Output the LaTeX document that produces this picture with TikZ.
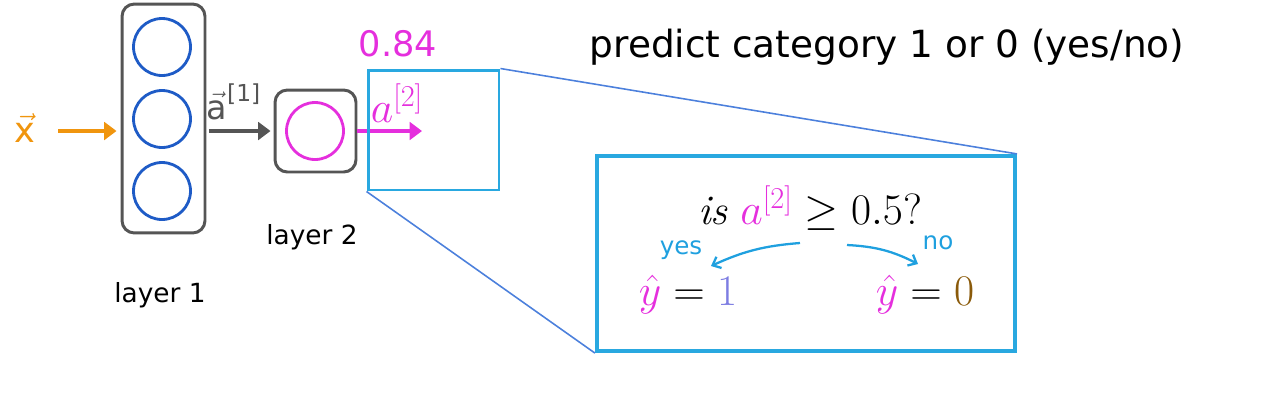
\documentclass[tikz,border=0pt]{standalone}
\usepackage{amsmath}
\usepackage{xcolor}
\usepackage{fontspec}
\setsansfont{DejaVu Sans}
\usetikzlibrary{arrows.meta}

\definecolor{inorange}{HTML}{F0950E}
\definecolor{unitblue}{HTML}{1E5BC6}
\definecolor{boxgray}{HTML}{555555}
\definecolor{outmag}{HTML}{E52FDD}
\definecolor{zoomcyan}{HTML}{29A8E0}
\definecolor{zoomblue}{HTML}{4C80DC}
\definecolor{handblue}{HTML}{1FA0DF}
\definecolor{onepurple}{HTML}{7D7DE2}
\definecolor{zerobrown}{HTML}{8A5A0A}

\tikzset{
  layerbox/.style={draw=boxgray, line width=1.7pt, rounded corners=7pt, inner sep=0pt},
  unit/.style={circle, draw, line width=1.6pt, minimum size=1.14cm, inner sep=0pt},
  flow/.style={line width=2.5pt, -{Triangle[length=7pt,width=10pt]}},
  zoombox/.style={draw=zoomcyan, inner sep=0pt},
  decide/.style={color=handblue, line width=1.3pt, -{Straight Barb[length=4pt,width=7pt]}},
  hand/.style={font=\sffamily\fontsize{14}{16}\selectfont, color=handblue},
  lbl/.style={font=\sffamily\fontsize{15}{18}\selectfont},
  big/.style={font=\fontsize{24}{28}\selectfont}
}

\begin{document}
\begin{tikzpicture}[x=0.02cm,y=-0.02cm]
  \useasboundingbox (0,0) rectangle (1264,414);

  % network
  \node[font=\sffamily\fontsize{20}{24}\selectfont, color=inorange, inner sep=1pt] (xin) at (25,128) {$\vec{\text{x}}$};
  \node[layerbox, minimum width=1.66cm, minimum height=4.58cm] (layer1) at (163.5,118.5) {};
  \node[unit, color=unitblue] (u1) at (162,47) {};
  \node[unit, color=unitblue] (u2) at (162,119) {};
  \node[unit, color=unitblue] (u3) at (162,191) {};
  \node[layerbox, minimum width=1.62cm, minimum height=1.64cm] (layer2) at (315.5,131) {};
  \node[unit, color=outmag] (out) at (315,131) {};
  \coordinate (xstart) at (58,131);
  \coordinate (aout) at (422,131);

  \draw[flow, color=inorange, shorten >=0.08cm] (xstart) -- (xstart -| layer1.west);
  \draw[flow, color=boxgray, shorten <=0.06cm, shorten >=0.06cm] (layer1.east |- layer2.west) -- (layer2.west);
  \draw[flow, color=outmag] (layer2.east) -- (aout);

  \node[font=\sffamily\fontsize{19}{22}\selectfont, color=boxgray] (a1) at (234,102) {$\vec{\text{a}}^{\text{[1]}}$};
  \node[font=\fontsize{23}{26}\selectfont, color=outmag] (a2) at (397,103) {$a^{[2]}$};
  \node[font=\sffamily\fontsize{20}{24}\selectfont, color=outmag] (val) at (398,44) {0.84};
  \node[lbl] (name2) at (312,237) {layer 2};
  \node[lbl] (name1) at (160,295) {layer 1};

  % zoom onto the output
  \node[zoombox, line width=1.7pt, minimum width=2.62cm, minimum height=2.4cm] (peek) at (433.5,130) {};
  \node[zoombox, line width=2.4pt, minimum width=8.36cm, minimum height=3.9cm] (detail) at (806,253.5) {};
  \draw[color=zoomblue, line width=0.9pt] (peek.north east) -- (detail.north east);
  \draw[color=zoomblue, line width=0.9pt] (peek.south west) -- (detail.south west);

  \node[font=\sffamily\fontsize{21.3}{25}\selectfont] (title) at (887,47) {predict category 1 or 0 (yes/no)};

  % threshold
  \node[big] (test) at (810,208) {$\mathit{is}\ {\color{outmag}a^{[2]}} \geq 0.5?$};
  \node[big] (yhat1) at (688,295) {${\color{outmag}\hat{y}} = {\color{onepurple}1}$};
  \node[big] (yhat0) at (925,295) {${\color{outmag}\hat{y}} = {\color{zerobrown}0}$};
  \coordinate (yesfrom) at (800,243);
  \coordinate (yesto) at (711,266);
  \coordinate (nofrom) at (847,245);
  \coordinate (noto) at (918,264);
  \draw[decide] (yesfrom) to[bend right=10] (yesto);
  \draw[decide] (nofrom) to[bend left=12] (noto);
  \node[hand] (yes) at (681,250) {yes};
  \node[hand] (no) at (938,243) {no};
\end{tikzpicture}
\end{document}
